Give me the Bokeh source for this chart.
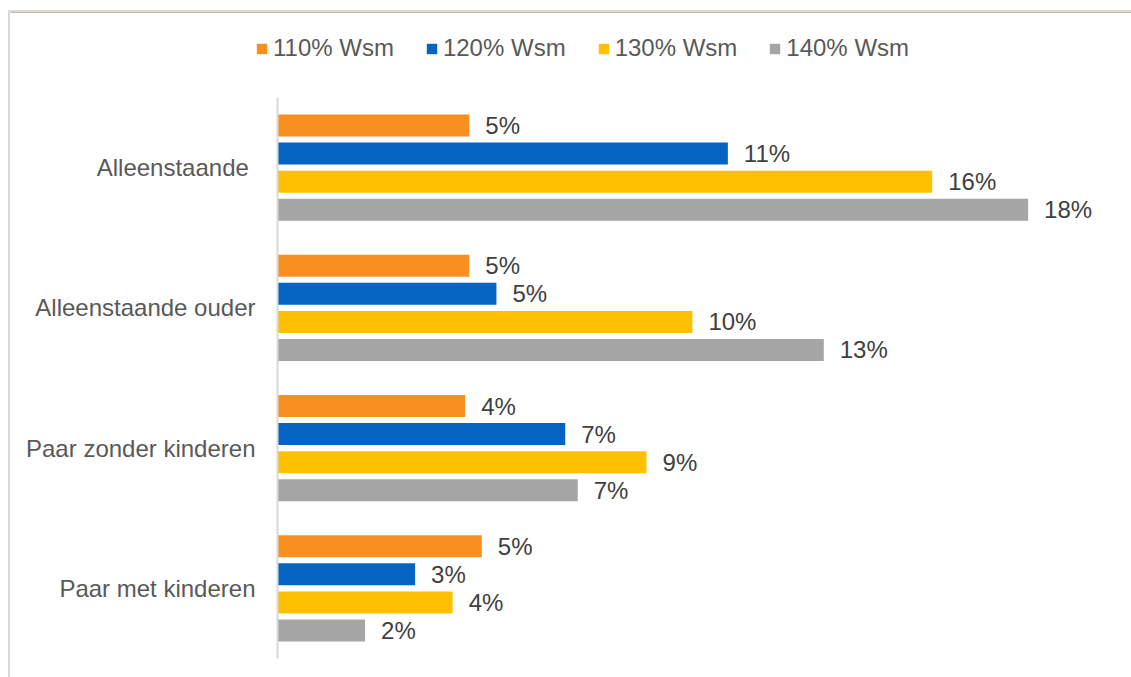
from bokeh.plotting import figure
from bokeh.layouts import column
from bokeh.models import ColumnDataSource, FactorRange, Range1d, Legend, LegendItem
from bokeh.transform import dodge
from bokeh.core.properties import value
from bokeh.embed import file_html
from bokeh.resources import INLINE

categories = ["Alleenstaande ", "Alleenstaande ouder", "Paar zonder kinderen", "Paar met kinderen"]
series = ["110% Wsm", "120% Wsm", "130% Wsm", "140% Wsm"]
wsm110 = [4.6, 4.6, 4.5, 4.9]
wsm120 = [10.8, 5.25, 6.9, 3.3]
wsm130 = [15.7, 9.95, 8.85, 4.2]
wsm140 = [18.0, 13.1, 7.2, 2.1]
labels110 = ["5%", "5%", "4%", "5%"]
labels120 = ["11%", "5%", "7%", "3%"]
labels130 = ["16%", "10%", "9%", "4%"]
labels140 = ["18%", "13%", "7%", "2%"]
colors = ["#F7901E", "#0563C1", "#FFC000", "#A5A5A5"]

FONT = "Liberation Sans"
FS = "24px"
LEG_H = 85

# legend strip
lf = figure(width=1121, height=LEG_H, output_backend="svg", toolbar_location=None,
            x_range=Range1d(0, 1), y_range=Range1d(0, 1),
            min_border_left=0, min_border_right=0, min_border_top=0, min_border_bottom=0)
lf.frame_align = False
lf.axis.visible = False
lf.grid.visible = False
lf.outline_line_color = None

# main chart
p = figure(width=1121, height=665 - LEG_H, output_backend="svg", toolbar_location=None,
           y_range=FactorRange(factors=list(reversed(categories)), range_padding=0),
           x_range=Range1d(0, 20),
           min_border_left=267, min_border_right=20, min_border_top=0, min_border_bottom=19)
p.frame_align = False
p.outline_line_color = None
p.xgrid.visible = False
p.ygrid.visible = False
p.xaxis.visible = False

yax = p.yaxis[0]
yax.axis_line_color = "#D9D9D9"
yax.axis_line_width = 2
yax.major_tick_line_color = None
yax.minor_tick_line_color = None
yax.major_label_standoff = 16
yax.major_label_text_font = FONT
yax.major_label_text_font_size = FS
yax.major_label_text_color = "#595959"

offsets = [0.3, 0.1, -0.1, -0.3]
vals = [wsm110, wsm120, wsm130, wsm140]
labs = [labels110, labels120, labels130, labels140]
items = []
for name, v, lab, c, off in zip(series, vals, labs, colors, offsets):
    src = ColumnDataSource(dict(cat=categories, val=v, lab=lab))
    p.hbar(y=dodge("cat", off, range=p.y_range), right="val", left=0, height=0.157,
           source=src, fill_color=c, line_color=None)
    p.text(x="val", y=dodge("cat", off, range=p.y_range), text="lab", source=src,
           x_offset=16, text_baseline="middle", text_align="left",
           text_font=value(FONT), text_font_size=FS, text_color="#404040")
    # legend proxy drawn outside the strip's visible range
    lr = lf.hbar(y=[5], right=[1], left=0, height=0.1, fill_color=c, line_color=None)
    items.append(LegendItem(label=name, renderers=[lr]))

legend = Legend(items=items, orientation="horizontal", location=(245, 35),
                glyph_width=13, glyph_height=13, label_standoff=5, spacing=31,
                padding=0, margin=0, border_line_color=None, background_fill_alpha=0,
                label_text_font=FONT, label_text_font_size=FS, label_text_color="#595959")
lf.add_layout(legend, "center")

layout = column(lf, p, spacing=0, margin=(10, 0, 0, 8),
                styles={"border-left": "2px solid #D9D9D9", "border-top": "2px solid #D9D9D9"})

open("out.html", "w").write(file_html(layout, INLINE))
